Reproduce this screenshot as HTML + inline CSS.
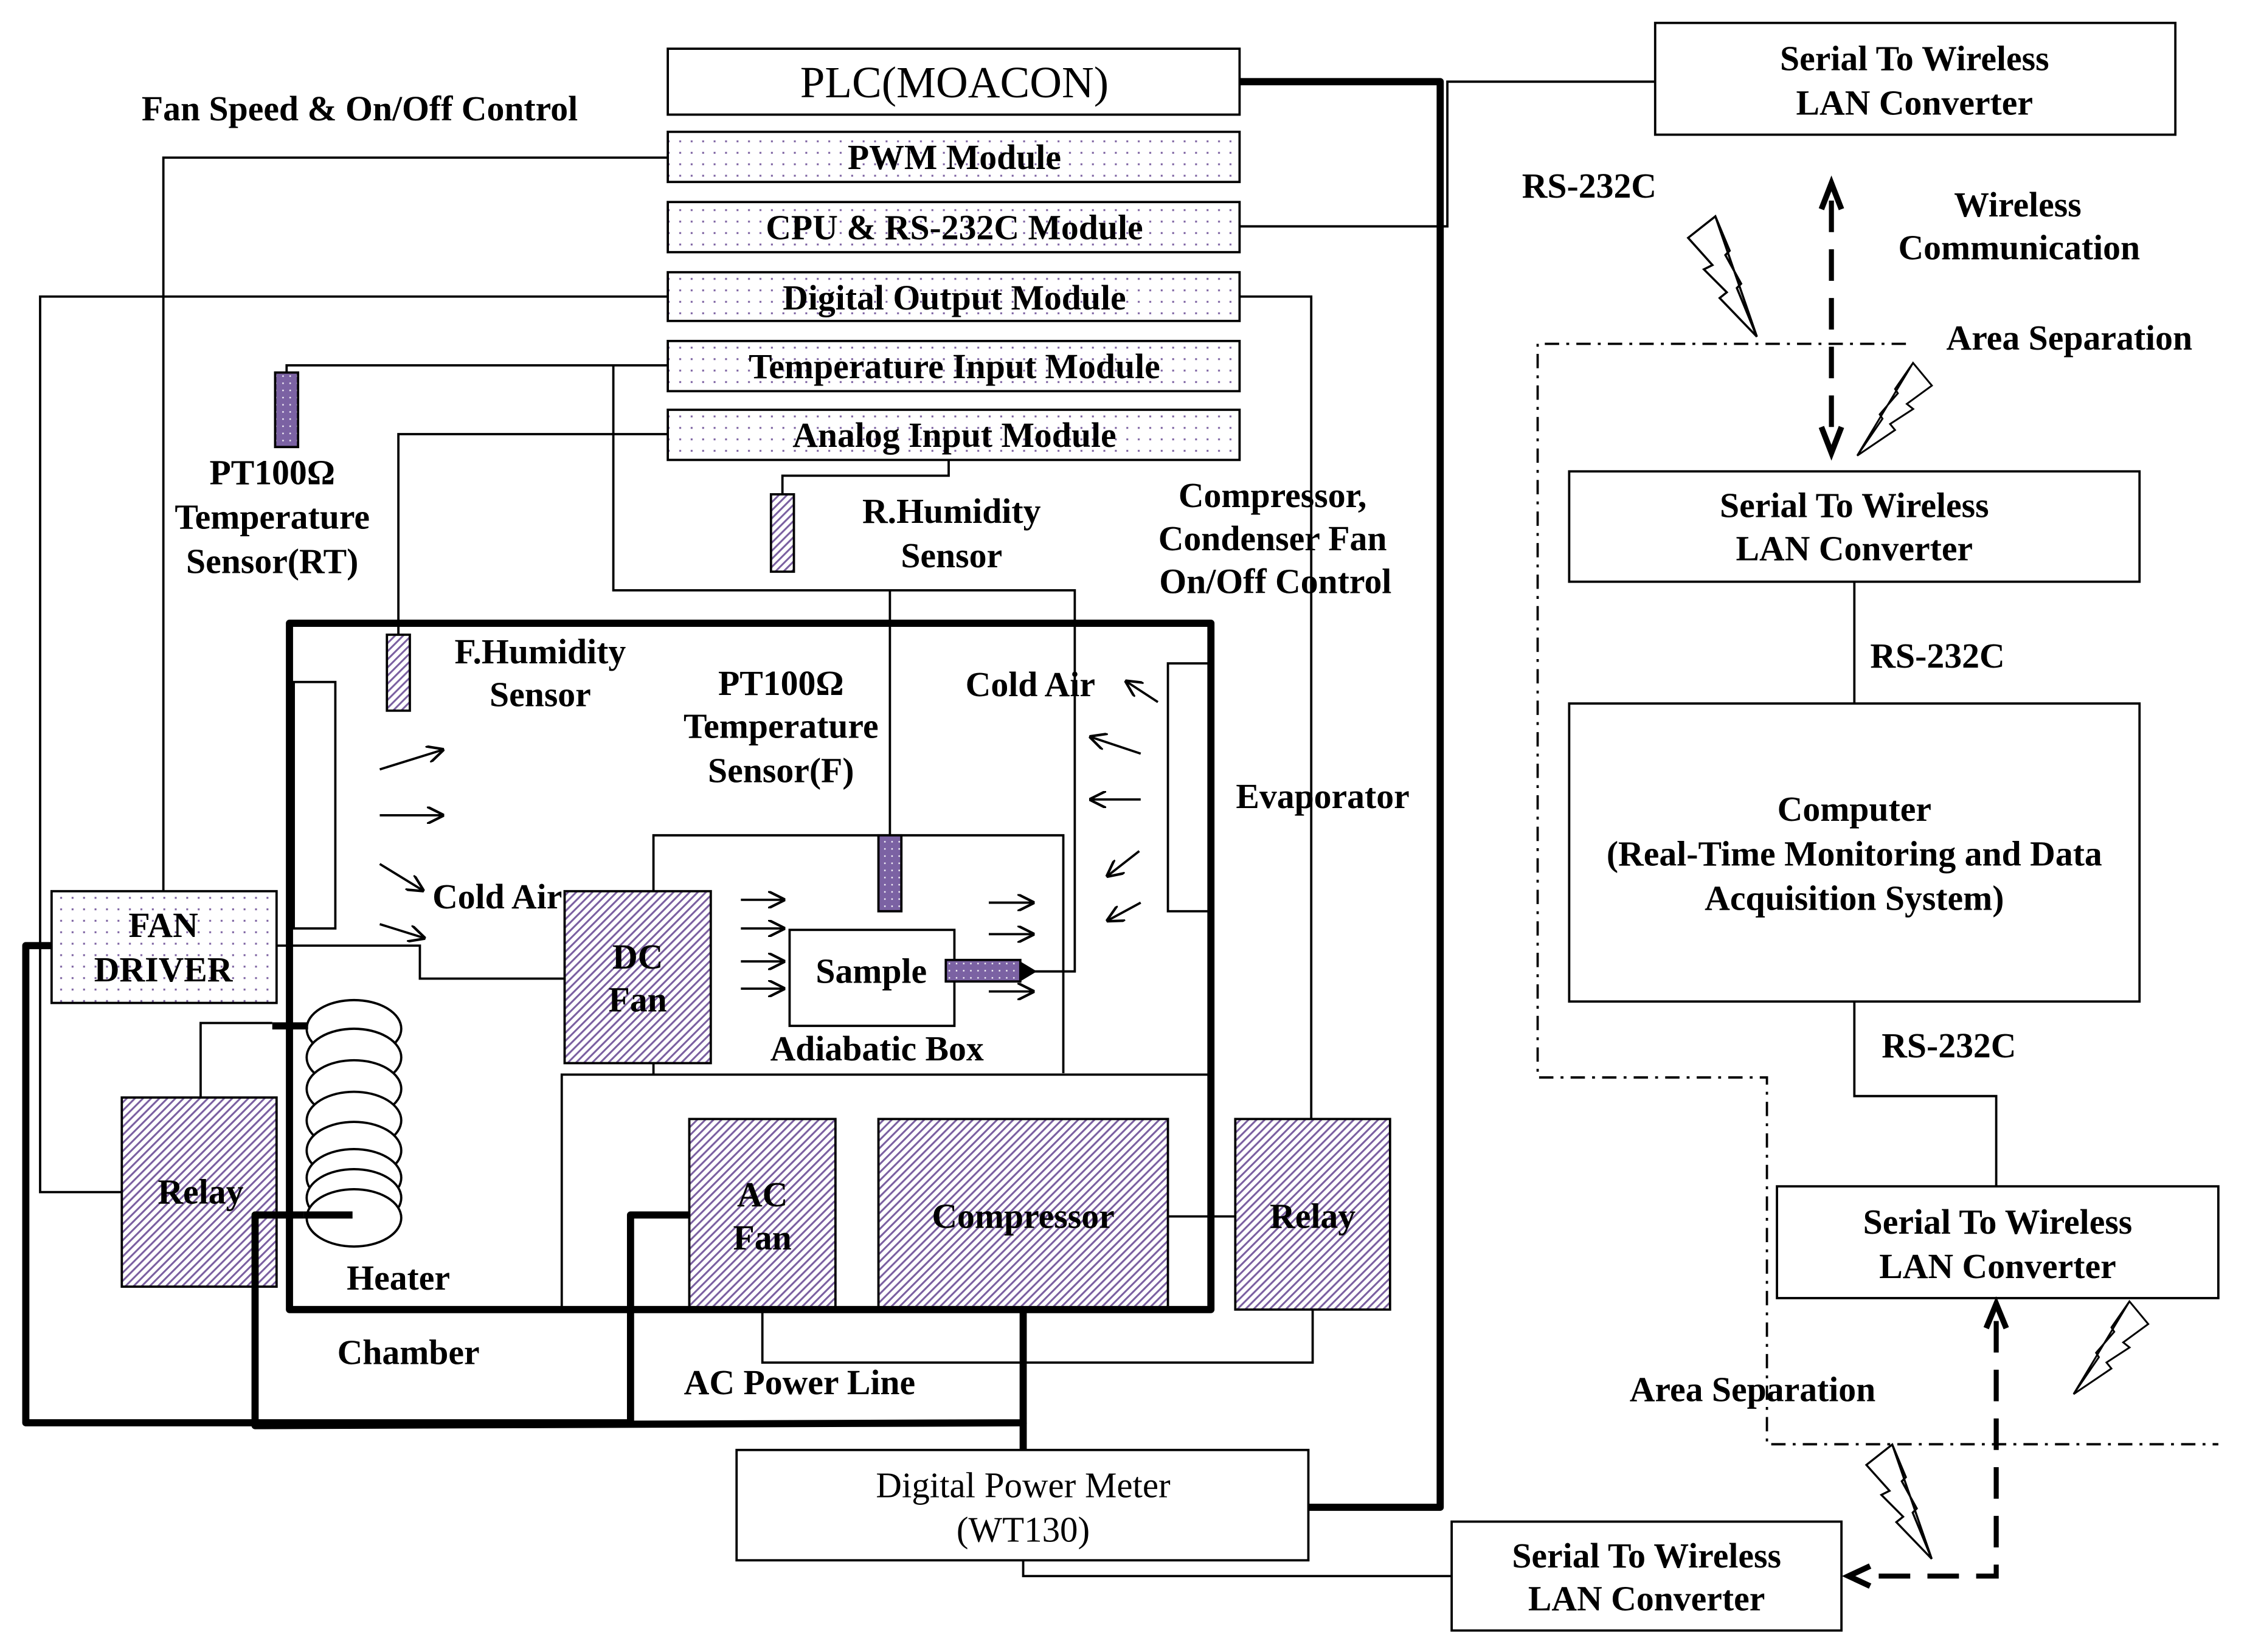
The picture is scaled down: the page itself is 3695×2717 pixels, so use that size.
<!DOCTYPE html>
<html><head><meta charset="utf-8"><style>
html,body{margin:0;padding:0;background:#fff}
svg{display:block}
text{font-family:"Liberation Serif",serif;font-weight:bold;font-size:24.5px;fill:#000;text-anchor:middle}
.n{font-weight:normal;font-size:25px}
</style></head><body>
<svg width="3695" height="2717" viewBox="0 0 1568 1153" preserveAspectRatio="none" xmlns="http://www.w3.org/2000/svg">
<defs>
<pattern id="dot" width="8" height="8" patternUnits="userSpaceOnUse"><rect width="8" height="8" fill="#fff"/><rect x="2" y="2" width="1.3" height="1.3" fill="#7a5fa0"/></pattern>
<pattern id="hat" width="4" height="4" patternUnits="userSpaceOnUse" patternTransform="rotate(45)"><rect width="4" height="4" fill="#fff"/><rect x="0" y="0" width="1.3" height="4" fill="#7a5fa0"/></pattern>
<pattern id="sen" width="5" height="5" patternUnits="userSpaceOnUse"><rect width="5" height="5" fill="#7b62a3"/><rect x="2" y="2" width="1" height="1" fill="#fff"/></pattern>
<marker id="ah" viewBox="0 0 10 10" refX="10" refY="5" markerWidth="12" markerHeight="12" markerUnits="userSpaceOnUse" orient="auto"><polyline points="0,0 10,5 0,10" fill="none" stroke="#000" stroke-width="1.5"/></marker>
<g id="bolt"><polygon points="0,0 -29,-84 -48,-69 -31,-50 -37,-47 -21,-31 -26,-27 0,0 -14,-34 -11,-37 -22,-57 -19,-60 -29,-84" fill="#fff" stroke="#000" stroke-width="1.5" stroke-linejoin="miter"/></g>
</defs>
<g fill="none" stroke="#000" stroke-width="1.6">
<rect x="466" y="34" width="399" height="46" fill="#fff"/>
<rect x="466" y="92" width="399" height="35" fill="url(#dot)"/>
<rect x="466" y="141" width="399" height="35" fill="url(#dot)"/>
<rect x="466" y="190" width="399" height="34" fill="url(#dot)"/>
<rect x="466" y="238" width="399" height="35" fill="url(#dot)"/>
<rect x="466" y="286" width="399" height="35" fill="url(#dot)"/>
<polyline points="466,110 114,110 114,622"/>
<polyline points="466,207 28,207 28,832 85,832"/>
<polyline points="865,207 915,207 915,781"/>
<polyline points="466,255 200,255 200,260"/>
<polyline points="428,255 428,412 750,412 750,678 712,678"/>
<line x1="621" y1="412" x2="621" y2="583"/>
<polyline points="466,303 278,303 278,443"/>
<polyline points="662,321 662,332 546,332 546,345"/>
<polyline points="865,158 1010,158 1010,57 1155,57"/>
<polyline points="193,660 293,660 293,683 394,683"/>
<polyline points="140,766 140,714 190,714"/>
<polyline points="532,914 532,951 916,951 916,914"/>
<line x1="815" y1="849" x2="862" y2="849"/>
<polyline points="714,1089 714,1100 1013,1100"/>
<rect x="205" y="476" width="29" height="172" fill="#fff"/>
<rect x="815" y="463" width="30" height="173" fill="#fff"/>
<polyline points="456,622 456,583 742,583 742,749"/>
<line x1="456" y1="742" x2="456" y2="750"/>
<polyline points="392,914 392,750 843,750"/>
<rect x="551" y="649" width="115" height="67" fill="#fff"/>
<rect x="394" y="622" width="102" height="120" fill="url(#hat)"/>
<rect x="481" y="781" width="102" height="133" fill="url(#hat)"/>
<rect x="613" y="781" width="202" height="133" fill="url(#hat)"/>
<rect x="862" y="781" width="108" height="133" fill="url(#hat)"/>
<rect x="85" y="766" width="108" height="132" fill="url(#hat)"/>
<rect x="36" y="622" width="157" height="78" fill="url(#dot)"/>
<rect x="192" y="260" width="16" height="52" fill="url(#sen)"/>
<rect x="538" y="345" width="16" height="54" fill="url(#hat)"/>
<rect x="270" y="443" width="16" height="53" fill="url(#hat)"/>
<rect x="613" y="583" width="16" height="53" fill="url(#sen)"/>
<rect x="660" y="670" width="52" height="15" fill="url(#sen)"/>
<polygon points="712,672 722,678 712,684" fill="#000"/>
<ellipse cx="247" cy="718" rx="33" ry="20" fill="#fff"/>
<ellipse cx="247" cy="738" rx="33" ry="20" fill="#fff"/>
<ellipse cx="247" cy="760" rx="33" ry="20" fill="#fff"/>
<ellipse cx="247" cy="782" rx="33" ry="20" fill="#fff"/>
<ellipse cx="247" cy="803" rx="33" ry="20" fill="#fff"/>
<ellipse cx="247" cy="822" rx="33" ry="20" fill="#fff"/>
<ellipse cx="247" cy="836" rx="33" ry="20" fill="#fff"/>
<ellipse cx="247" cy="850" rx="33" ry="20" fill="#fff"/>
<g marker-end="url(#ah)">
<line x1="265" y1="537" x2="310" y2="523"/>
<line x1="265" y1="569" x2="310" y2="569"/>
<line x1="265" y1="603" x2="296" y2="622"/>
<line x1="265" y1="645" x2="297" y2="655"/>
<line x1="808" y1="490" x2="785" y2="475"/>
<line x1="796" y1="526" x2="760" y2="514"/>
<line x1="796" y1="558" x2="760" y2="558"/>
<line x1="795" y1="594" x2="772" y2="612"/>
<line x1="796" y1="630" x2="772" y2="643"/>
<line x1="517" y1="628" x2="548" y2="628"/>
<line x1="517" y1="648" x2="548" y2="648"/>
<line x1="517" y1="671" x2="548" y2="671"/>
<line x1="517" y1="690" x2="548" y2="690"/>
<line x1="690" y1="630" x2="722" y2="630"/>
<line x1="690" y1="652" x2="722" y2="652"/>
<line x1="690" y1="692" x2="722" y2="692"/>
</g>
<rect x="1155" y="16" width="363" height="78" fill="#fff"/>
<rect x="1095" y="329" width="398" height="77" fill="#fff"/>
<rect x="1095" y="491" width="398" height="208" fill="#fff"/>
<rect x="1240" y="828" width="308" height="78" fill="#fff"/>
<rect x="514" y="1012" width="399" height="77" fill="#fff"/>
<rect x="1013" y="1062" width="272" height="76" fill="#fff"/>
<line x1="1294" y1="406" x2="1294" y2="491"/>
<polyline points="1294,699 1294,765 1393,765 1393,828"/>
<polyline points="1330,240 1073,240 1073,752 1233,752 1233,1008 1548,1008" stroke-dasharray="10,5,2,5"/>
</g>
<g fill="none" stroke="#000" stroke-width="5" stroke-linejoin="round">
<rect x="202" y="435" width="643" height="479"/>
<polyline points="865,57 1005,57 1005,1052 913,1052"/>
<polyline points="36,660 18,660 18,993 440,993"/>
<polyline points="212,848 178,848 178,995 714,993 714,914"/>
<line x1="714" y1="993" x2="714" y2="1012"/>
<polyline points="481,848 440,848 440,995"/>
<line x1="190" y1="716" x2="215" y2="716"/>
<line x1="246" y1="848" x2="212" y2="848"/>
</g>
<g fill="none" stroke="#000" stroke-width="3.5">
<line x1="1278" y1="140" x2="1278" y2="305" stroke-dasharray="22,12"/>
<polyline points="1271,146 1278,128 1285,146" stroke-width="4"/>
<polyline points="1271,298 1278,316 1285,298" stroke-width="4"/>
<polyline points="1393,922 1393,1100 1300,1100" stroke-dasharray="22,12"/>
<polyline points="1386,927 1393,910 1400,927" stroke-width="4"/>
<polyline points="1305,1093 1290,1100 1305,1107" stroke-width="4"/>
</g>
<use href="#bolt" transform="translate(1226,235)"/>
<use href="#bolt" transform="translate(1296,318) scale(-1,1) rotate(-12) scale(0.85)"/>
<use href="#bolt" transform="translate(1447,973) scale(-1,1) rotate(-12) scale(0.85)"/>
<use href="#bolt" transform="translate(1348,1088) scale(0.95)"/>
<text class="n" x="666" y="68" style="font-size:31px">PLC(MOACON)</text>
<text x="666" y="118">PWM Module</text>
<text x="666" y="167">CPU &amp; RS-232C Module</text>
<text x="666" y="216">Digital Output Module</text>
<text x="666" y="264">Temperature Input Module</text>
<text x="666" y="312">Analog Input Module</text>
<text x="251" y="84">Fan Speed &amp; On/Off Control</text>
<text x="190" y="338">PT100Ω</text>
<text x="190" y="369">Temperature</text>
<text x="190" y="400">Sensor(RT)</text>
<text x="664" y="365">R.Humidity</text>
<text x="664" y="396">Sensor</text>
<text x="888" y="354">Compressor,</text>
<text x="888" y="384">Condenser Fan</text>
<text x="890" y="414">On/Off Control</text>
<text x="377" y="463">F.Humidity</text>
<text x="377" y="493">Sensor</text>
<text x="545" y="485">PT100Ω</text>
<text x="545" y="515">Temperature</text>
<text x="545" y="546">Sensor(F)</text>
<text x="719" y="486">Cold Air</text>
<text x="923" y="564">Evaporator</text>
<text x="347" y="634">Cold Air</text>
<text x="445" y="676">DC</text>
<text x="445" y="706">Fan</text>
<text x="608" y="686">Sample</text>
<text x="612" y="740">Adiabatic Box</text>
<text x="114" y="654">FAN</text>
<text x="114" y="685">DRIVER</text>
<text x="140" y="840">Relay</text>
<text x="278" y="900">Heater</text>
<text x="532" y="842">AC</text>
<text x="532" y="872">Fan</text>
<text x="714" y="857">Compressor</text>
<text x="916" y="857">Relay</text>
<text x="285" y="952">Chamber</text>
<text x="558" y="973">AC Power Line</text>
<text class="n" x="714" y="1045">Digital  Power Meter</text>
<text class="n" x="714" y="1076">(WT130)</text>
<text x="1336" y="49">Serial To Wireless</text>
<text x="1336" y="80">LAN Converter</text>
<text x="1109" y="138">RS-232C</text>
<text x="1408" y="151">Wireless</text>
<text x="1409" y="181">Communication</text>
<text x="1444" y="244">Area Separation</text>
<text x="1294" y="361">Serial To Wireless</text>
<text x="1294" y="391">LAN Converter</text>
<text x="1352" y="466">RS-232C</text>
<text x="1294" y="573">Computer</text>
<text x="1294" y="604">(Real-Time Monitoring and Data</text>
<text x="1294" y="635">Acquisition System)</text>
<text x="1360" y="738">RS-232C</text>
<text x="1394" y="861">Serial To Wireless</text>
<text x="1394" y="892">LAN Converter</text>
<text x="1223" y="978">Area Separation</text>
<text x="1149" y="1094">Serial To Wireless</text>
<text x="1149" y="1124">LAN Converter</text>
</svg>
</body></html>
